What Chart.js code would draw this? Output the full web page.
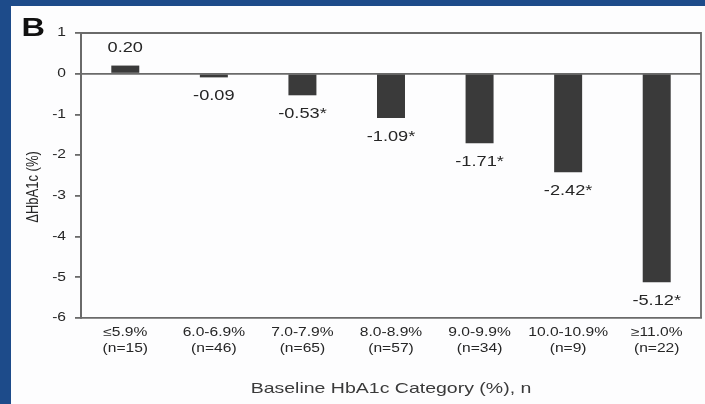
<!DOCTYPE html>
<html>
<head>
<meta charset="utf-8">
<script src="https://cdn.jsdelivr.net/npm/chart.js@4.4.1/dist/chart.umd.min.js"></script>
<style>
  html, body { margin: 0; padding: 0; overflow: hidden; background: #ffffff; }
  #stage { position: relative; width: 705px; height: 404px; overflow: hidden; background: #fdfdfe; }
  .frame { position: absolute; background: #1d4b8a; }
  #frameLeft { left: 0; top: 0; width: 11px; height: 404px; }
  #frameTop { left: 0; top: 0; width: 705px; height: 6px; }
  #c { position: absolute; left: 0; top: 0; display: block; }
</style>
</head>
<body>
<div id="stage">
  <div class="frame" id="frameLeft"></div>
  <div class="frame" id="frameTop"></div>
  <canvas id="c" width="705" height="404"></canvas>
</div>
<script>
// Baseline HbA1c categories, group sizes and mean change in HbA1c
const ranges = ['≤5.9%', '6.0-6.9%', '7.0-7.9%', '8.0-8.9%', '9.0-9.9%', '10.0-10.9%', '≥11.0%'];
const counts = [15, 46, 65, 57, 34, 9, 22];
const changes = [0.20, -0.09, -0.53, -1.09, -1.71, -2.42, -5.12];
const significant = [false, false, true, true, true, true, true];
const yMin = -6;
const yMax = 1;
const yStep = 1;

const panelLetter = 'B';
const yTitle = 'ΔHbA1c (%)';
const xTitle = 'Baseline HbA1c Category (%), n';

const AXIS = '#6a6a6a';
const BAR = '#3a3a3a';
const TEXT = '#262626';
const FONT = "'Liberation Sans', Arial, sans-serif";
const WIDEN = 1.3; // the figure's lettering is set wide

// Write text widened horizontally around its anchor point
function wideText(ctx, txt, x, y, font, align, color) {
  ctx.save();
  ctx.translate(x, y);
  ctx.scale(WIDEN, 1);
  ctx.font = font;
  ctx.fillStyle = color || TEXT;
  ctx.textAlign = align;
  ctx.textBaseline = 'middle';
  ctx.fillText(txt, 0, 0);
  ctx.restore();
}

const textPlugin = {
  id: 'figureText',
  afterDraw(chart) {
    const ctx = chart.ctx;
    const a = chart.chartArea;
    const xs = chart.scales.x;
    const ys = chart.scales.y;

    // plot box: top and right edges
    ctx.save();
    ctx.strokeStyle = AXIS;
    ctx.lineWidth = 1.8;
    ctx.beginPath();
    ctx.moveTo(a.left, a.top);
    ctx.lineTo(a.right, a.top);
    ctx.lineTo(a.right, a.bottom);
    ctx.stroke();
    ctx.restore();

    // panel letter
    ctx.save();
    ctx.translate(21.5, 36);
    ctx.scale(WIDEN, 1);
    ctx.font = "bold 25px " + FONT;
    ctx.fillStyle = '#111111';
    ctx.textBaseline = 'alphabetic';
    ctx.fillText(panelLetter, 0, 0);
    ctx.restore();

    // y tick labels
    ys.ticks.forEach((t, i) => {
      wideText(ctx, String(t.value), a.left - 15, ys.getPixelForTick(i), "12px " + FONT, 'right');
    });

    // category labels, two lines each
    ranges.forEach((r, i) => {
      const x = xs.getPixelForTick(i);
      wideText(ctx, r, x, a.bottom + 15, "12px " + FONT, 'center');
      wideText(ctx, '(n=' + counts[i] + ')', x, a.bottom + 31, "12px " + FONT, 'center');
    });

    // value labels at the end of each bar
    const meta = chart.getDatasetMeta(0);
    meta.data.forEach((bar, i) => {
      const v = changes[i];
      const txt = v.toFixed(2) + (significant[i] ? '*' : '');
      const y = v >= 0 ? bar.y - 17 : bar.y + 19;
      wideText(ctx, txt, bar.x, y, "14px " + FONT, 'center');
    });

    // axis titles
    wideText(ctx, xTitle, (a.left + a.right) / 2, 389, "15px " + FONT, 'center', '#3a3a3a');
    ctx.save();
    ctx.translate(33, 187);
    ctx.scale(WIDEN, 1);
    ctx.rotate(-Math.PI / 2);
    ctx.font = "13px " + FONT;
    ctx.fillStyle = TEXT;
    ctx.textAlign = 'center';
    ctx.textBaseline = 'middle';
    ctx.fillText(yTitle, 0, 0);
    ctx.restore();
  }
};

new Chart(document.getElementById('c'), {
  type: 'bar',
  data: {
    labels: ranges,
    datasets: [{
      data: changes,
      backgroundColor: BAR,
      borderWidth: 0,
      barPercentage: 0.316,
      categoryPercentage: 1.0
    }]
  },
  options: {
    responsive: false,
    animation: false,
    devicePixelRatio: 1,
    layout: { padding: { top: 33, right: 4, bottom: 0, left: 0 } },
    plugins: { legend: { display: false }, tooltip: { enabled: false } },
    scales: {
      x: {
        afterFit(scale) { scale.height = 86; },
        grid: { display: false, drawTicks: false },
        border: { display: true, color: AXIS, width: 1.8 },
        ticks: { display: false, autoSkip: false }
      },
      y: {
        min: yMin,
        max: yMax,
        afterFit(scale) { scale.width = 81; },
        ticks: { stepSize: yStep, display: false },
        grid: {
          drawOnChartArea: true,
          drawTicks: true,
          color: (ctx) => (ctx.tick && ctx.tick.value === 0 ? AXIS : 'rgba(0,0,0,0)'),
          lineWidth: 1.8,
          tickColor: AXIS,
          tickLength: 6,
          tickWidth: 1.8
        },
        border: { display: true, color: AXIS, width: 2 }
      }
    }
  },
  plugins: [textPlugin]
});
</script>
</body>
</html>
